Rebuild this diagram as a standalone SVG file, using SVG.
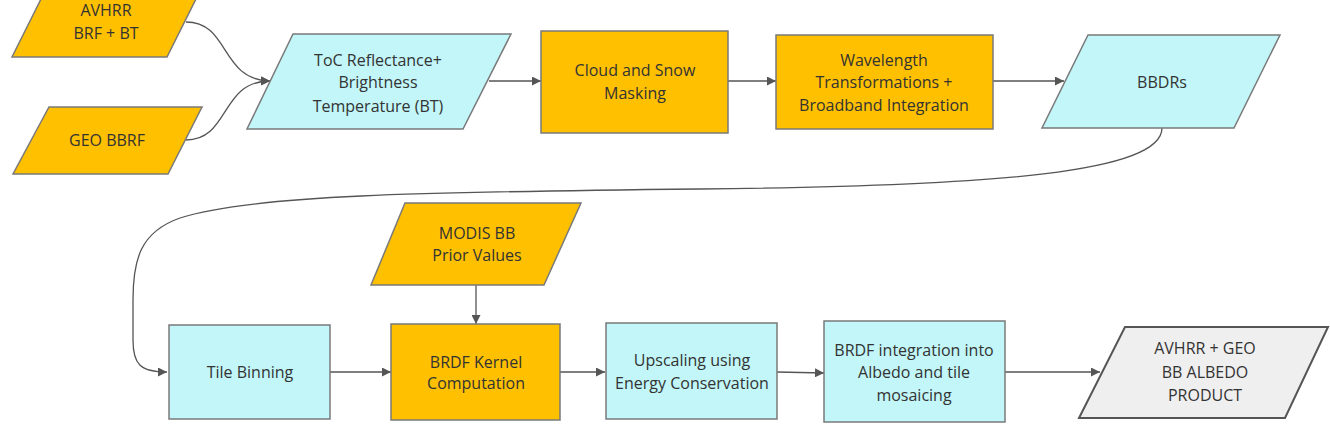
<svg xmlns="http://www.w3.org/2000/svg" width="1330" height="426" viewBox="0 0 1330 426">
<style>
.o{fill:#FFC000;stroke:#7a7a7a;stroke-width:1.5}
.c{fill:#C2F6F8;stroke:#7a7a7a;stroke-width:1.5}
.g{fill:#EFEFEF;stroke:#555;stroke-width:2}
text{font-family:"Open Sans","Noto Sans",sans-serif;font-size:16px;fill:#333;text-anchor:middle;dominant-baseline:central}
.e path{fill:none;stroke:#555;stroke-width:1.3}
</style>
<defs>
<marker id="a" viewBox="0 0 10 10" refX="10" refY="5" markerWidth="9" markerHeight="9" markerUnits="userSpaceOnUse" orient="auto"><path d="M0,0 L10,5 L0,10 z" fill="#555"/></marker>
</defs>
<g class="e">
<path d="M186,22 C230,22 220,80 270,81" marker-end="url(#a)"/>
<path d="M186,140 C230,140 220,81 270,81" marker-end="url(#a)"/>
<path d="M489,81 L541,81" marker-end="url(#a)"/>
<path d="M728,81 L776,81" marker-end="url(#a)"/>
<path d="M993,81 L1064,81" marker-end="url(#a)"/>
<path d="M1162,128 C1162,172 1000,186 700,189 C420,192 250,195 180,218 C140,232 133,260 133,300 L133,340 C133,364 140,372 167,372" marker-end="url(#a)"/>
<path d="M476,285 L476,324" marker-end="url(#a)"/>
<path d="M330,372 L391,372" marker-end="url(#a)"/>
<path d="M560,372 L605,372" marker-end="url(#a)"/>
<path d="M777,372 L824,373" marker-end="url(#a)"/>
<path d="M1005,372 L1100,372" marker-end="url(#a)"/>
</g>
<g id="avhrr"><polygon class="o" points="42,-3 197,-3 167,57 12,57"/><text x="106" y="10">AVHRR</text><text x="106" y="33">BRF + BT</text></g>
<g id="geo"><polygon class="o" points="49,107 202,107 168,174 13,174"/><text x="107" y="140">GEO BBRF</text></g>
<g id="toc"><polygon class="c" points="293,34 511,34 463,129 247,129"/><text x="378" y="60">ToC Reflectance+</text><text x="378" y="82">Brightness</text><text x="378" y="106">Temperature (BT)</text></g>
<g id="cloud"><rect class="o" x="541" y="31" width="187" height="102"/><text x="635" y="70">Cloud and Snow</text><text x="635" y="93">Masking</text></g>
<g id="wave"><rect class="o" x="776" y="35" width="217" height="94"/><text x="884" y="60">Wavelength</text><text x="884" y="82">Transformations +</text><text x="884" y="105">Broadband Integration</text></g>
<g id="bbdrs"><polygon class="c" points="1088,35 1280,35 1234,128 1042,128"/><text x="1162" y="82">BBDRs</text></g>
<g id="modis"><polygon class="o" points="405,203 581,203 544,285 371,285"/><text x="477" y="233">MODIS BB</text><text x="477" y="255">Prior Values</text></g>
<g id="tile"><rect class="c" x="169" y="325" width="161" height="94"/><text x="250" y="372">Tile Binning</text></g>
<g id="brdf"><rect class="o" x="391" y="324" width="169" height="96"/><text x="476" y="362">BRDF Kernel</text><text x="476" y="383">Computation</text></g>
<g id="upscale"><rect class="c" x="606" y="323" width="171" height="96"/><text x="692" y="360">Upscaling using</text><text x="692" y="383">Energy Conservation</text></g>
<g id="integ"><rect class="c" x="824" y="321" width="181" height="101"/><text x="914" y="350">BRDF integration into</text><text x="914" y="372">Albedo and tile</text><text x="914" y="395">mosaicing</text></g>
<g id="product"><polygon class="g" points="1125,327 1328,327 1285,418 1079,418"/><text x="1205" y="348">AVHRR + GEO</text><text x="1205" y="372">BB ALBEDO</text><text x="1205" y="395">PRODUCT</text></g>
</svg>
